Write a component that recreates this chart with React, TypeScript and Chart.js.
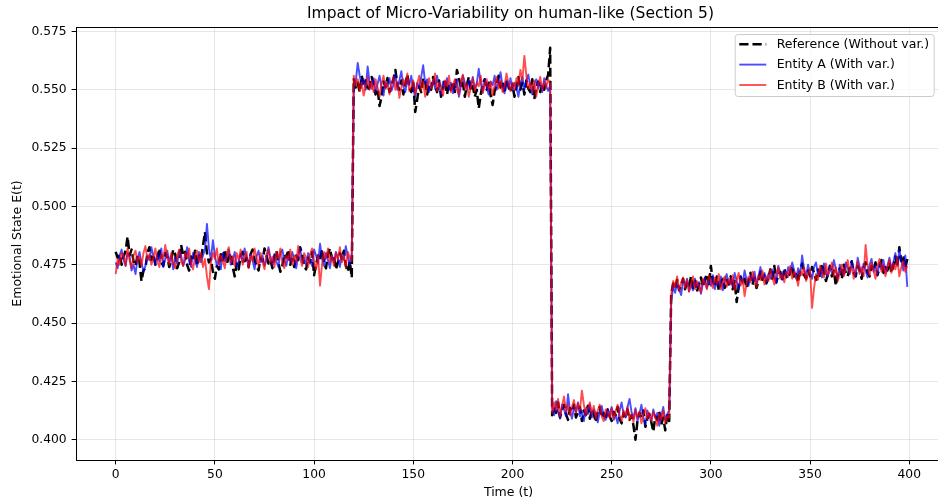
import React, { useEffect, useRef } from "react";
import { Chart, registerables } from "chart.js";

Chart.register(...registerables);

const TITLE = "Impact of Micro-Variability on human-like (Section 5)";
const X_LABEL = "Time (t)";
const Y_LABEL = "Emotional State E(t)";
const SERIES_NAMES = ["Reference (Without var.)", "Entity A (With var.)", "Entity B (With var.)"];
const X_TICKS = [0, 50, 100, 150, 200, 250, 300, 350, 400];
const Y_TICKS = [0.4, 0.425, 0.45, 0.475, 0.5, 0.525, 0.55, 0.575];

// Reference (without variability), t = 0..399, split by phase
const refSeg1 = [
  0.4805, 0.4780, 0.4795, 0.4750, 0.4785, 0.4810, 0.4870, 0.4790, 0.4815, 0.4765,
  0.4745, 0.4790, 0.4760, 0.4680, 0.4725, 0.4735, 0.4800, 0.4825, 0.4770, 0.4795,
  0.4750, 0.4775, 0.4820, 0.4760, 0.4745, 0.4800, 0.4785, 0.4740, 0.4770, 0.4815,
  0.4795, 0.4735, 0.4760, 0.4835, 0.4790, 0.4805, 0.4750, 0.4725, 0.4785, 0.4770,
  0.4810, 0.4745, 0.4790, 0.4775, 0.4830, 0.4890, 0.4800, 0.4760, 0.4775, 0.4720,
  0.4690, 0.4745, 0.4730, 0.4795, 0.4770, 0.4815, 0.4755, 0.4780, 0.4800, 0.4740,
  0.4700, 0.4755, 0.4730, 0.4790, 0.4805, 0.4765, 0.4780, 0.4740, 0.4795, 0.4815,
  0.4770, 0.4745, 0.4725, 0.4780, 0.4765, 0.4820, 0.4790, 0.4755, 0.4770, 0.4735,
  0.4785, 0.4810, 0.4760, 0.4720, 0.4745, 0.4795, 0.4780, 0.4815, 0.4750, 0.4775,
  0.4740, 0.4790, 0.4770, 0.4825, 0.4795, 0.4745, 0.4730, 0.4780, 0.4760, 0.4805,
  0.4705, 0.4750, 0.4790, 0.4770, 0.4815, 0.4760, 0.4735, 0.4795, 0.4820, 0.4775,
  0.4790, 0.4730, 0.4760, 0.4800, 0.4775, 0.4810, 0.4745, 0.4720, 0.4765, 0.4695,
];
const refSeg2 = [
  0.5545, 0.5510, 0.5530, 0.5490, 0.5560, 0.5520, 0.5540, 0.5495, 0.5515, 0.5555,
  0.5525, 0.5480, 0.5505, 0.5430, 0.5470, 0.5535, 0.5510, 0.5550, 0.5490, 0.5520,
  0.5545, 0.5585, 0.5520, 0.5500, 0.5540, 0.5480, 0.5525, 0.5565, 0.5510, 0.5490,
  0.5530, 0.5405, 0.5460, 0.5515, 0.5490, 0.5550, 0.5535, 0.5480, 0.5520, 0.5500,
  0.5555, 0.5515, 0.5490, 0.5540, 0.5470, 0.5505, 0.5545, 0.5480, 0.5525, 0.5500,
  0.5535, 0.5490, 0.5585, 0.5550, 0.5510, 0.5530, 0.5470, 0.5520, 0.5555, 0.5495,
  0.5515, 0.5470, 0.5500, 0.5420, 0.5480, 0.5525, 0.5545, 0.5500, 0.5530, 0.5475,
  0.5435, 0.5495, 0.5520, 0.5560, 0.5510, 0.5535, 0.5485, 0.5545, 0.5515, 0.5490,
  0.5525, 0.5470, 0.5510, 0.5555, 0.5500, 0.5530, 0.5480, 0.5540, 0.5505, 0.5490,
  0.5545, 0.5460, 0.5510, 0.5535, 0.5490, 0.5525, 0.5500, 0.5540, 0.5565, 0.5680,
];
const refSeg3 = [
  0.4105, 0.4140, 0.4115, 0.4160, 0.4095, 0.4130, 0.4150, 0.4110, 0.4085, 0.4135,
  0.4120, 0.4150, 0.4095, 0.4115, 0.4140, 0.4080, 0.4125, 0.4105, 0.4145, 0.4090,
  0.4130, 0.4110, 0.4075, 0.4120, 0.4140, 0.4095, 0.4115, 0.4085, 0.4130, 0.4100,
  0.4080, 0.4120, 0.4105, 0.4140, 0.4090, 0.4070, 0.4115, 0.4100, 0.4130, 0.4085,
  0.4105, 0.4060, 0.4000, 0.4080, 0.4115, 0.4095, 0.4125, 0.4055, 0.4090, 0.4110,
  0.4075, 0.4035, 0.4100, 0.4085, 0.4120, 0.4065, 0.4095, 0.4040, 0.4105, 0.4080,
];
const refSeg4 = [
  0.4625, 0.4670, 0.4650, 0.4685, 0.4640, 0.4665, 0.4690, 0.4645, 0.4675, 0.4660,
  0.4700, 0.4650, 0.4680, 0.4635, 0.4665, 0.4695, 0.4655, 0.4685, 0.4710, 0.4660,
  0.4745, 0.4680, 0.4655, 0.4700, 0.4640, 0.4675, 0.4690, 0.4650, 0.4685, 0.4665,
  0.4700, 0.4645, 0.4680, 0.4590, 0.4655, 0.4700, 0.4670, 0.4690, 0.4650, 0.4685,
  0.4715, 0.4665, 0.4695, 0.4650, 0.4680, 0.4720, 0.4685, 0.4705, 0.4670, 0.4695,
  0.4730, 0.4690, 0.4745, 0.4675, 0.4705, 0.4720, 0.4680, 0.4735, 0.4700, 0.4690,
  0.4720, 0.4745, 0.4690, 0.4710, 0.4675, 0.4730, 0.4755, 0.4705, 0.4690, 0.4725,
  0.4700, 0.4740, 0.4715, 0.4685, 0.4730, 0.4695, 0.4755, 0.4720, 0.4680, 0.4710,
  0.4745, 0.4700, 0.4725, 0.4660, 0.4710, 0.4735, 0.4690, 0.4750, 0.4715, 0.4700,
  0.4740, 0.4765, 0.4715, 0.4700, 0.4745, 0.4725, 0.4690, 0.4735, 0.4760, 0.4715,
  0.4700, 0.4745, 0.4725, 0.4760, 0.4705, 0.4735, 0.4770, 0.4715, 0.4740, 0.4725,
  0.4760, 0.4715, 0.4745, 0.4785, 0.4740, 0.4825, 0.4765, 0.4790, 0.4735, 0.4775,
];

// Entity A (with variability)
const entASeg1 = [
  0.4760, 0.4735, 0.4790, 0.4815, 0.4770, 0.4745, 0.4800, 0.4785, 0.4725, 0.4750,
  0.4710, 0.4775, 0.4805, 0.4760, 0.4720, 0.4745, 0.4790, 0.4770, 0.4825, 0.4785,
  0.4750, 0.4795, 0.4765, 0.4820, 0.4740, 0.4775, 0.4810, 0.4760, 0.4790, 0.4730,
  0.4780, 0.4755, 0.4810, 0.4790, 0.4745, 0.4770, 0.4825, 0.4765, 0.4740, 0.4800,
  0.4775, 0.4740, 0.4805, 0.4760, 0.4790, 0.4815, 0.4925, 0.4820, 0.4770, 0.4855,
  0.4790, 0.4745, 0.4775, 0.4730, 0.4800, 0.4765, 0.4780, 0.4815, 0.4750, 0.4770,
  0.4805, 0.4740, 0.4765, 0.4795, 0.4760, 0.4820, 0.4775, 0.4745, 0.4795, 0.4770,
  0.4730, 0.4785, 0.4810, 0.4760, 0.4790, 0.4745, 0.4770, 0.4825, 0.4780, 0.4750,
  0.4795, 0.4765, 0.4740, 0.4800, 0.4815, 0.4770, 0.4745, 0.4790, 0.4760, 0.4805,
  0.4775, 0.4735, 0.4790, 0.4820, 0.4760, 0.4780, 0.4750, 0.4800, 0.4770, 0.4745,
  0.4815, 0.4790, 0.4755, 0.4840, 0.4780, 0.4745, 0.4800, 0.4770, 0.4735, 0.4790,
  0.4760, 0.4805, 0.4780, 0.4740, 0.4795, 0.4770, 0.4830, 0.4785, 0.4750, 0.4800,
];
const entASeg2 = [
  0.5500, 0.5535, 0.5615, 0.5560, 0.5520, 0.5545, 0.5500, 0.5600, 0.5530, 0.5505,
  0.5550, 0.5490, 0.5525, 0.5560, 0.5510, 0.5475, 0.5535, 0.5515, 0.5550, 0.5495,
  0.5520, 0.5565, 0.5500, 0.5540, 0.5580, 0.5515, 0.5490, 0.5545, 0.5520, 0.5560,
  0.5500, 0.5470, 0.5530, 0.5510, 0.5555, 0.5605, 0.5525, 0.5545, 0.5490, 0.5520,
  0.5540, 0.5505, 0.5560, 0.5515, 0.5480, 0.5535, 0.5510, 0.5550, 0.5500, 0.5530,
  0.5485, 0.5520, 0.5545, 0.5470, 0.5515, 0.5560, 0.5530, 0.5500, 0.5540, 0.5510,
  0.5555, 0.5500, 0.5525, 0.5590, 0.5530, 0.5490, 0.5545, 0.5510, 0.5480, 0.5535,
  0.5520, 0.5560, 0.5500, 0.5530, 0.5575, 0.5515, 0.5485, 0.5540, 0.5505, 0.5550,
  0.5495, 0.5530, 0.5510, 0.5470, 0.5525, 0.5555, 0.5500, 0.5540, 0.5565, 0.5515,
  0.5480, 0.5525, 0.5545, 0.5505, 0.5530, 0.5490, 0.5550, 0.5515, 0.5495, 0.5520,
];
const entASeg3 = [
  0.4140, 0.4105, 0.4165, 0.4120, 0.4090, 0.4150, 0.4130, 0.4100, 0.4195, 0.4125,
  0.4090, 0.4140, 0.4115, 0.4160, 0.4100, 0.4125, 0.4080, 0.4135, 0.4110, 0.4150,
  0.4095, 0.4130, 0.4110, 0.4075, 0.4120, 0.4145, 0.4100, 0.4085, 0.4130, 0.4110,
  0.4140, 0.4085, 0.4105, 0.4070, 0.4125, 0.4160, 0.4110, 0.4095, 0.4140, 0.4175,
  0.4120, 0.4090, 0.4135, 0.4080, 0.4110, 0.4150, 0.4095, 0.4065, 0.4125, 0.4100,
  0.4080, 0.4130, 0.4095, 0.4115, 0.4060, 0.4100, 0.4140, 0.4085, 0.4110, 0.4125,
];
const entASeg4 = [
  0.4590, 0.4655, 0.4630, 0.4675, 0.4645, 0.4620, 0.4680, 0.4660, 0.4690, 0.4635,
  0.4665, 0.4640, 0.4690, 0.4655, 0.4675, 0.4625, 0.4670, 0.4695, 0.4650, 0.4680,
  0.4660, 0.4705, 0.4645, 0.4680, 0.4660, 0.4700, 0.4640, 0.4685, 0.4710, 0.4665,
  0.4690, 0.4655, 0.4715, 0.4680, 0.4645, 0.4700, 0.4670, 0.4725, 0.4685, 0.4660,
  0.4705, 0.4680, 0.4720, 0.4665, 0.4700, 0.4740, 0.4690, 0.4715, 0.4675, 0.4710,
  0.4690, 0.4730, 0.4700, 0.4670, 0.4745, 0.4715, 0.4685, 0.4725, 0.4700, 0.4740,
  0.4710, 0.4760, 0.4725, 0.4690, 0.4735, 0.4705, 0.4790, 0.4730, 0.4700, 0.4750,
  0.4715, 0.4690, 0.4740, 0.4760, 0.4705, 0.4730, 0.4695, 0.4755, 0.4720, 0.4700,
  0.4745, 0.4715, 0.4770, 0.4730, 0.4690, 0.4750, 0.4720, 0.4705, 0.4760, 0.4735,
  0.4710, 0.4765, 0.4730, 0.4700, 0.4780, 0.4740, 0.4715, 0.4755, 0.4725, 0.4695,
  0.4750, 0.4775, 0.4720, 0.4745, 0.4705, 0.4760, 0.4730, 0.4770, 0.4715, 0.4745,
  0.4780, 0.4735, 0.4760, 0.4800, 0.4745, 0.4815, 0.4770, 0.4725, 0.4790, 0.4655,
];

// Entity B (with variability)
const entBSeg1 = [
  0.4710, 0.4775, 0.4750, 0.4800, 0.4790, 0.4745, 0.4820, 0.4770, 0.4735, 0.4790,
  0.4810, 0.4760, 0.4785, 0.4745, 0.4800, 0.4830, 0.4770, 0.4795, 0.4750, 0.4780,
  0.4820, 0.4765, 0.4740, 0.4795, 0.4775, 0.4835, 0.4780, 0.4750, 0.4800, 0.4760,
  0.4735, 0.4790, 0.4815, 0.4765, 0.4745, 0.4800, 0.4780, 0.4820, 0.4755, 0.4730,
  0.4785, 0.4810, 0.4760, 0.4800, 0.4740, 0.4775, 0.4700, 0.4645, 0.4760, 0.4800,
  0.4775, 0.4820, 0.4750, 0.4790, 0.4770, 0.4735, 0.4800, 0.4825, 0.4760, 0.4785,
  0.4745, 0.4800, 0.4770, 0.4815, 0.4750, 0.4780, 0.4805, 0.4735, 0.4790, 0.4765,
  0.4820, 0.4780, 0.4745, 0.4800, 0.4765, 0.4730, 0.4795, 0.4815, 0.4760, 0.4785,
  0.4740, 0.4805, 0.4775, 0.4820, 0.4760, 0.4735, 0.4790, 0.4770, 0.4815, 0.4750,
  0.4790, 0.4760, 0.4830, 0.4775, 0.4745, 0.4800, 0.4780, 0.4740, 0.4795, 0.4820,
  0.4765, 0.4730, 0.4790, 0.4660, 0.4750, 0.4805, 0.4775, 0.4820, 0.4760, 0.4790,
  0.4745, 0.4800, 0.4770, 0.4825, 0.4760, 0.4790, 0.4740, 0.4805, 0.4780, 0.4765,
];
const entBSeg2 = [
  0.5560, 0.5520, 0.5545, 0.5495, 0.5530, 0.5475, 0.5515, 0.5555, 0.5500, 0.5535,
  0.5490, 0.5545, 0.5510, 0.5470, 0.5525, 0.5560, 0.5505, 0.5530, 0.5480, 0.5520,
  0.5555, 0.5500, 0.5535, 0.5465, 0.5510, 0.5545, 0.5520, 0.5570, 0.5495, 0.5515,
  0.5540, 0.5480, 0.5525, 0.5560, 0.5500, 0.5535, 0.5470, 0.5515, 0.5550, 0.5505,
  0.5525, 0.5570, 0.5495, 0.5530, 0.5510, 0.5475, 0.5540, 0.5515, 0.5560, 0.5490,
  0.5520, 0.5545, 0.5500, 0.5480, 0.5535, 0.5565, 0.5505, 0.5525, 0.5470, 0.5510,
  0.5550, 0.5495, 0.5530, 0.5515, 0.5560, 0.5485, 0.5520, 0.5545, 0.5500, 0.5535,
  0.5475, 0.5520, 0.5555, 0.5505, 0.5540, 0.5490, 0.5515, 0.5570, 0.5525, 0.5495,
  0.5530, 0.5500, 0.5550, 0.5515, 0.5585, 0.5540, 0.5645, 0.5560, 0.5505, 0.5530,
  0.5490, 0.5540, 0.5470, 0.5525, 0.5555, 0.5500, 0.5535, 0.5510, 0.5545, 0.5525,
];
const entBSeg3 = [
  0.4115, 0.4160, 0.4125, 0.4175, 0.4100, 0.4145, 0.4185, 0.4120, 0.4150, 0.4105,
  0.4140, 0.4170, 0.4115, 0.4155, 0.4125, 0.4210, 0.4150, 0.4105, 0.4135, 0.4160,
  0.4110, 0.4145, 0.4090, 0.4125, 0.4150, 0.4100, 0.4080, 0.4130, 0.4115, 0.4095,
  0.4135, 0.4090, 0.4120, 0.4150, 0.4105, 0.4080, 0.4125, 0.4100, 0.4140, 0.4085,
  0.4110, 0.4075, 0.4130, 0.4095, 0.4120, 0.4070, 0.4105, 0.4135, 0.4090, 0.4115,
  0.4080, 0.4120, 0.4095, 0.4060, 0.4110, 0.4085, 0.4125, 0.4070, 0.4100, 0.4095,
];
const entBSeg4 = [
  0.4620, 0.4680, 0.4655, 0.4700, 0.4640, 0.4670, 0.4695, 0.4650, 0.4685, 0.4635,
  0.4665, 0.4700, 0.4645, 0.4680, 0.4655, 0.4630, 0.4690, 0.4670, 0.4645, 0.4705,
  0.4680, 0.4650, 0.4695, 0.4670, 0.4710, 0.4645, 0.4675, 0.4700, 0.4655, 0.4690,
  0.4665, 0.4705, 0.4640, 0.4685, 0.4715, 0.4660, 0.4690, 0.4615, 0.4670, 0.4700,
  0.4675, 0.4720, 0.4690, 0.4655, 0.4705, 0.4685, 0.4725, 0.4665, 0.4700, 0.4680,
  0.4730, 0.4695, 0.4665, 0.4715, 0.4740, 0.4690, 0.4710, 0.4675, 0.4720, 0.4700,
  0.4745, 0.4690, 0.4720, 0.4700, 0.4660, 0.4725, 0.4705, 0.4740, 0.4680, 0.4715,
  0.4730, 0.4565, 0.4650, 0.4710, 0.4685, 0.4745, 0.4720, 0.4695, 0.4755, 0.4705,
  0.4725, 0.4760, 0.4700, 0.4740, 0.4680, 0.4715, 0.4750, 0.4700, 0.4735, 0.4770,
  0.4715, 0.4745, 0.4690, 0.4730, 0.4765, 0.4710, 0.4740, 0.4700, 0.4835, 0.4745,
  0.4705, 0.4760, 0.4725, 0.4690, 0.4745, 0.4775, 0.4720, 0.4750, 0.4700, 0.4740,
  0.4770, 0.4715, 0.4755, 0.4730, 0.4780, 0.4700, 0.4740, 0.4765, 0.4720, 0.4745,
];

const refValues = [...refSeg1, ...refSeg2, ...refSeg3, ...refSeg4];
const entAValues = [...entASeg1, ...entASeg2, ...entASeg3, ...entASeg4];
const entBValues = [...entBSeg1, ...entBSeg2, ...entBSeg3, ...entBSeg4];

const FONT = '"DejaVu Sans", sans-serif';
const DASH = [9.2, 4];
const COLORS = ["#000000", "rgba(0,0,255,0.7)", "rgba(255,0,0,0.7)"];
const WIDTHS = [2.5, 1.9, 1.9];

const toPoints = (vals: number[]) => vals.map((y, i) => ({ x: i, y }));

const overlayPlugin = {
  id: "overlay",
  afterDraw(chart: any) {
    const { ctx, chartArea } = chart;
    const { left, top, right, bottom } = chartArea;
    ctx.save();
    // top & right spines
    ctx.strokeStyle = "#000";
    ctx.lineWidth = 1;
    ctx.setLineDash([]);
    ctx.beginPath();
    ctx.moveTo(left, top + 0.5);
    ctx.lineTo(right, top + 0.5);
    ctx.moveTo(right - 0.5, top);
    ctx.lineTo(right - 0.5, bottom);
    ctx.stroke();

    // title
    ctx.fillStyle = "#000";
    ctx.font = `15.5px ${FONT}`;
    ctx.textAlign = "center";
    ctx.textBaseline = "middle";
    ctx.fillText(TITLE, (left + right) / 2 + 2, 14);

    // legend
    const bw = 199, bh = 62;
    const bx = right - 7.3 - bw;
    const by = top + 7;
    ctx.beginPath();
    ctx.roundRect(bx + 0.5, by + 0.5, bw, bh, 3);
    ctx.fillStyle = "rgba(255,255,255,0.8)";
    ctx.fill();
    ctx.strokeStyle = "#cccccc";
    ctx.lineWidth = 1;
    ctx.stroke();

    ctx.font = `12.5px ${FONT}`;
    ctx.textAlign = "left";
    ctx.textBaseline = "middle";
    const rowsY = [10.2, 30.6, 51];
    SERIES_NAMES.forEach((name, i) => {
      const y = by + rowsY[i];
      ctx.beginPath();
      ctx.strokeStyle = COLORS[i];
      ctx.lineWidth = WIDTHS[i];
      ctx.setLineDash(i === 0 ? DASH : []);
      ctx.moveTo(bx + 4.6, y);
      ctx.lineTo(bx + 31.5, y);
      ctx.stroke();
      ctx.setLineDash([]);
      ctx.fillStyle = "#000";
      ctx.fillText(name, bx + 42, y + 0.5);
    });
    ctx.restore();
  },
};

export default function App() {
  const canvasRef = useRef<HTMLCanvasElement | null>(null);

  useEffect(() => {
    const canvas = canvasRef.current;
    if (!canvas) return;
    const common = {
      pointRadius: 0,
      tension: 0,
      borderJoinStyle: "round",
      borderCapStyle: "butt",
    };
    const chart = new Chart(canvas, {
      type: "line",
      data: {
        datasets: [
          {
            ...common,
            label: SERIES_NAMES[0],
            data: toPoints(refValues),
            borderColor: COLORS[0],
            borderWidth: WIDTHS[0],
            borderDash: DASH,
            order: 3,
          },
          {
            ...common,
            label: SERIES_NAMES[1],
            data: toPoints(entAValues),
            borderColor: COLORS[1],
            borderWidth: WIDTHS[1],
            order: 2,
          },
          {
            ...common,
            label: SERIES_NAMES[2],
            data: toPoints(entBValues),
            borderColor: COLORS[2],
            borderWidth: WIDTHS[2],
            order: 1,
          },
        ],
      },
      options: {
        animation: false,
        responsive: false,
        devicePixelRatio: 1,
        layout: { padding: { left: 0, right: 1, top: 27, bottom: 0 } },
        plugins: {
          legend: { display: false },
          title: { display: false },
          tooltip: { enabled: false },
        },
        scales: {
          x: {
            type: "linear",
            min: -20,
            max: 416,
            afterBuildTicks: (scale: any) => {
              scale.ticks = X_TICKS.map((v) => ({ value: v }));
            },
            afterFit: (scale: any) => {
              scale.height = 44;
            },
            grid: {
              color: "rgba(176,176,176,0.3)",
              lineWidth: 1,
              drawTicks: true,
              tickLength: 4.4,
              tickColor: "#000",
            },
            border: { display: true, color: "#000", width: 1 },
            ticks: {
              color: "#000",
              font: { family: FONT, size: 12.3 },
              padding: 3,
              maxRotation: 0,
              callback: (v: any) => String(v),
            },
            title: {
              display: true,
              text: X_LABEL,
              color: "#000",
              font: { family: FONT, size: 12.5 },
              padding: { top: 0, bottom: 4 },
            },
          },
          y: {
            type: "linear",
            min: 0.3913,
            max: 0.5769,
            afterBuildTicks: (scale: any) => {
              scale.ticks = Y_TICKS.map((v) => ({ value: v }));
            },
            afterFit: (scale: any) => {
              scale.width = 76;
            },
            grid: {
              color: "rgba(176,176,176,0.3)",
              lineWidth: 1,
              drawTicks: true,
              tickLength: 4.4,
              tickColor: "#000",
            },
            border: { display: true, color: "#000", width: 1 },
            ticks: {
              color: "#000",
              font: { family: FONT, size: 12.3 },
              padding: 5,
              callback: (v: any) => Number(v).toFixed(3),
            },
            title: {
              display: true,
              text: Y_LABEL,
              color: "#000",
              font: { family: FONT, size: 12.5 },
              padding: { top: 10, bottom: 0 },
            },
          },
        },
      },
      plugins: [overlayPlugin],
    } as any);
    return () => chart.destroy();
  }, []);

  return (
    <div
      style={{
        position: "absolute",
        left: 0,
        top: 0,
        width: 938,
        height: 504,
        overflow: "hidden",
        background: "#fff",
      }}
    >
      <canvas
        ref={canvasRef}
        width={942}
        height={504}
        style={{ width: 942, height: 504, display: "block" }}
      />
    </div>
  );
}
